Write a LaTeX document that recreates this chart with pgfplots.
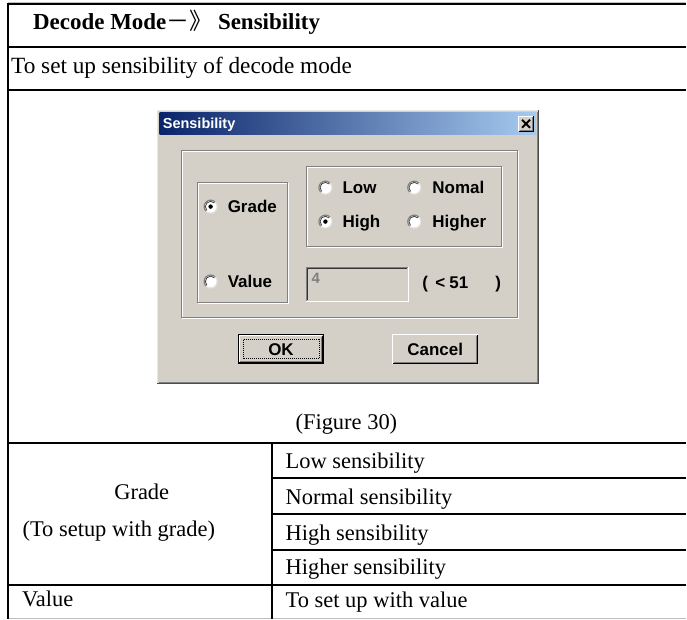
\documentclass[border=0pt]{standalone}
\usepackage{pgfplots}
\pgfplotsset{compat=1.18}
\usepackage{fontspec}
\setmainfont{Liberation Serif}
\newfontfamily\dlg{Liberation Sans}
\newfontfamily\cjk{Noto Sans CJK SC}
\definecolor{dlgbg}{RGB}{212,208,200}
\definecolor{dkgray}{RGB}{128,128,128}
\definecolor{tbL}{RGB}{10,36,106}
\definecolor{tbR}{RGB}{166,202,240}
\definecolor{ltgray}{RGB}{190,190,190}
\newcommand{\etched}[4]{%
  \draw[white,line width=1bp,xshift=1bp,yshift=-1bp] (axis cs:#1,#2) rectangle (axis cs:#3,#4);
  \draw[dkgray,line width=1bp] (axis cs:#1,#2) rectangle (axis cs:#3,#4);}
\newcommand{\radio}[3]{%
  \fill[white] (axis cs:#1,#2) circle[radius=6.5bp];
  \draw[dkgray,line width=1.2bp] (axis cs:#1,#2) ++(45:6.5bp) arc[start angle=45,end angle=225,radius=6.5bp];
  \draw[dlgbg!60!white,line width=1.2bp] (axis cs:#1,#2) ++(225:6.5bp) arc[start angle=225,end angle=405,radius=6.5bp];
  \draw[black!75,line width=0.8bp] (axis cs:#1,#2) ++(45:5.3bp) arc[start angle=45,end angle=225,radius=5.3bp];
  \ifnum#3=1 \fill[black] (axis cs:#1,#2) circle[radius=2.2bp];\fi}
\newcommand{\dtext}[3]{\node[anchor=base west,inner sep=0pt,font=\dlg\bfseries\fontsize{17bp}{20bp}\selectfont] at (axis cs:#1,#2) {#3};}
\newcommand{\ttext}[3]{\node[anchor=base west,inner sep=0pt,font=\fontsize{22.5bp}{26bp}\selectfont] at (axis cs:#1,#2) {#3};}
\begin{document}
\begin{tikzpicture}
\begin{axis}[width=687bp,height=620bp,scale only axis,xmin=0,xmax=687,ymin=0,ymax=620,
  y dir=reverse,hide axis,clip=false]
\path (axis cs:0,0) rectangle (axis cs:687,620);
% ---------- table ----------
\draw[ltgray,line width=1bp] (axis cs:8,619.5) -- (axis cs:687,619.5);
\draw[ltgray,line width=1bp] (axis cs:8,2.5) -- (axis cs:687,2.5);
\begin{scope}[line width=2bp,black]
\draw (axis cs:7,4.5) -- (axis cs:687,4.5);
\draw (axis cs:8,4) -- (axis cs:8,620);
\draw[line width=2.5bp] (axis cs:8,47) -- (axis cs:687,47);
\draw (axis cs:8,90) -- (axis cs:687,90);
\draw (axis cs:8,444) -- (axis cs:687,444);
\draw (axis cs:272,444) -- (axis cs:272,620);
\draw[line width=2.5bp] (axis cs:272,479) -- (axis cs:687,479);
\draw (axis cs:272,515) -- (axis cs:687,515);
\draw (axis cs:272,551) -- (axis cs:687,551);
\draw (axis cs:8,586) -- (axis cs:687,586);
\end{scope}
\node[anchor=base west,inner sep=0pt,font=\bfseries\fontsize{23bp}{26bp}\selectfont] at (axis cs:33,30) {Decode Mode{\cjk\mdseries －》} Sensibility};
\node[anchor=base west,inner sep=0pt,font=\fontsize{23.3bp}{26bp}\selectfont] at (axis cs:11,74) {To set up sensibility of decode mode};
\node[anchor=base,inner sep=0pt,font=\fontsize{22.5bp}{26bp}\selectfont] at (axis cs:347,430) {(Figure 30)};
\node[anchor=base,inner sep=0pt,font=\fontsize{22.5bp}{26bp}\selectfont] at (axis cs:142,500) {Grade};
\node[anchor=base,inner sep=0pt,font=\fontsize{22.5bp}{26bp}\selectfont] at (axis cs:119,537) {(To setup with grade)};
\ttext{22}{608}{Value}
\ttext{286}{469}{Low sensibility}
\ttext{286}{505}{Normal sensibility}
\ttext{286}{541}{High sensibility}
\ttext{286}{576}{Higher sensibility}
\ttext{286}{609}{To set up with value}
% ---------- dialog ----------
\fill[dlgbg] (axis cs:157,110) rectangle (axis cs:540,385);
\draw[dlgbg!50!white,line width=1bp] (axis cs:157.5,384.5) -- (axis cs:157.5,110.5) -- (axis cs:539.5,110.5);
\draw[black!70,line width=1bp] (axis cs:157.5,384.5) -- (axis cs:539.5,384.5) -- (axis cs:539.5,110.5);
\draw[dkgray,line width=1bp] (axis cs:159,383) -- (axis cs:538,383) -- (axis cs:538,112);
\shade[left color=tbL,right color=tbR] (axis cs:160,113) rectangle (axis cs:537,135);
\node[anchor=base west,inner sep=0pt,text=white,font=\dlg\bfseries\fontsize{14.5bp}{17bp}\selectfont] at (axis cs:163,129) {Sensibility};
% close button
\fill[dlgbg] (axis cs:519,116) rectangle (axis cs:535,132);
\draw[white,line width=1bp] (axis cs:519.5,131.5) -- (axis cs:519.5,116.5) -- (axis cs:534.5,116.5);
\draw[black,line width=1bp] (axis cs:519.5,131.5) -- (axis cs:534.5,131.5) -- (axis cs:534.5,116.5);
\draw[dkgray,line width=1bp] (axis cs:520.5,130.5) -- (axis cs:533.5,130.5) -- (axis cs:533.5,117.5);
\draw[black,line width=2bp] (axis cs:523,120) -- (axis cs:531,128) (axis cs:531,120) -- (axis cs:523,128);
% group boxes
\etched{182}{151}{518}{318}
\etched{198}{183}{288}{303}
\etched{307}{167}{502}{247}
% text field
\draw[dkgray,line width=1bp] (axis cs:307.5,302) -- (axis cs:307.5,267.5) -- (axis cs:409,267.5);
\draw[black!80,line width=1bp] (axis cs:308.5,301) -- (axis cs:308.5,268.5) -- (axis cs:408,268.5);
\draw[white,line width=1bp] (axis cs:307,302.5) -- (axis cs:409.5,302.5) -- (axis cs:409.5,267);
\node[anchor=base west,inner sep=0pt,text=dkgray,font=\dlg\bfseries\fontsize{15bp}{17bp}\selectfont] at (axis cs:312,284) {4};
\dtext{423}{289}{(}
\dtext{436}{289}{<}
\dtext{450}{289}{51}
\dtext{496}{289}{)}
% radios
\radio{211}{207}{1}
\radio{211}{282}{0}
\radio{326}{188}{0}
\radio{415}{188}{0}
\radio{326}{222}{1}
\radio{415}{222}{0}
\dtext{228}{213}{Grade}
\dtext{228}{288}{Value}
\dtext{343}{194}{Low}
\dtext{433}{194}{Nomal}
\dtext{343}{228}{High}
\dtext{433}{228}{Higher}
% OK button
\draw[black,line width=1bp] (axis cs:238.5,335.5) rectangle (axis cs:324.5,364.5);
\draw[white,line width=1bp] (axis cs:239.5,362.5) -- (axis cs:239.5,336.5) -- (axis cs:322.5,336.5);
\draw[black,line width=1bp] (axis cs:239.5,363.5) -- (axis cs:323.5,363.5) -- (axis cs:323.5,336.5);
\draw[dkgray,line width=1bp] (axis cs:240.5,362.5) -- (axis cs:322.5,362.5) -- (axis cs:322.5,337.5);
\draw[black,line width=0.8bp,dash pattern=on 1bp off 1bp] (axis cs:243.5,340.5) rectangle (axis cs:319.5,359.5);
\node[anchor=base,inner sep=0pt,font=\dlg\bfseries\fontsize{17bp}{20bp}\selectfont] at (axis cs:281.5,356) {OK};
% Cancel button
\draw[white,line width=1bp] (axis cs:393.5,364.5) -- (axis cs:393.5,335.5) -- (axis cs:478.5,335.5);
\draw[black,line width=1bp] (axis cs:393.5,364.5) -- (axis cs:478.5,364.5) -- (axis cs:478.5,335.5);
\draw[dkgray,line width=1bp] (axis cs:394.5,363.5) -- (axis cs:477.5,363.5) -- (axis cs:477.5,336.5);
\node[anchor=base,inner sep=0pt,font=\dlg\bfseries\fontsize{17bp}{20bp}\selectfont] at (axis cs:436,356) {Cancel};
\end{axis}
\end{tikzpicture}
\end{document}
